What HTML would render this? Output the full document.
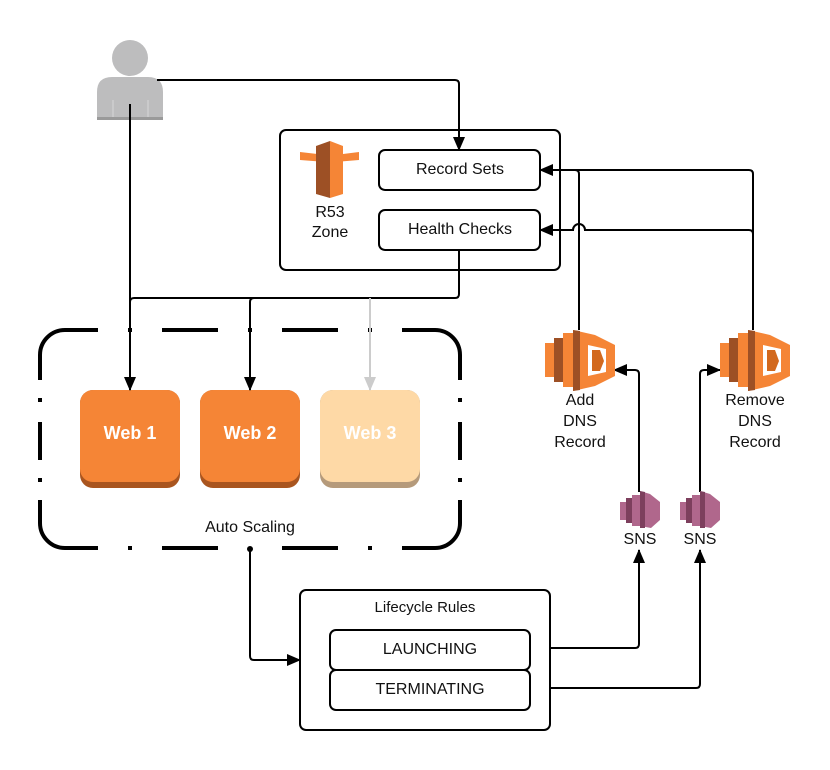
<!DOCTYPE html>
<html><head><meta charset="utf-8"><style>
html,body{margin:0;padding:0;background:#fff;}
svg{display:block;}
text{font-family:"Liberation Sans",sans-serif;fill:#111;}
</style></head><body>
<svg width="830" height="770" viewBox="0 0 830 770" xmlns="http://www.w3.org/2000/svg">
<defs>
<marker id="ah" markerWidth="14" markerHeight="12" refX="13" refY="6" orient="auto" markerUnits="userSpaceOnUse"><path d="M0,0 L14,6 L0,12 z" fill="#000"/></marker>
<marker id="ahg" markerWidth="14" markerHeight="12" refX="13" refY="6" orient="auto" markerUnits="userSpaceOnUse"><path d="M0,0 L14,6 L0,12 z" fill="#ccc"/></marker>
</defs>

<!-- person -->
<g fill="#bdbdbe">
<circle cx="130" cy="58" r="18"/>
<path d="M97,120 L97,92 Q97,77 112,77 L148,77 Q163,77 163,92 L163,120 z"/>
</g>
<g stroke="#d8d8d8" stroke-width="1"><line x1="113" y1="100" x2="113" y2="120"/><line x1="148" y1="100" x2="148" y2="120"/></g>
<rect x="97" y="117" width="66" height="3" fill="#9a9a9a"/>

<!-- R53 box -->
<rect x="280" y="130" width="280" height="140" rx="6" fill="#fff" stroke="#000" stroke-width="2"/>
<rect x="379" y="150" width="161" height="40" rx="6" fill="#fff" stroke="#000" stroke-width="2"/>
<text x="460" y="174" font-size="16" text-anchor="middle">Record Sets</text>
<rect x="379" y="210" width="161" height="40" rx="6" fill="#fff" stroke="#000" stroke-width="2"/>
<text x="460" y="234" font-size="16" text-anchor="middle">Health Checks</text>
<!-- R53 icon -->
<path d="M300,152 L326,155 L326,162 L300,160 z" fill="#f58536"/>
<path d="M335,155 L359,152 L359,160 L335,162 z" fill="#f58536"/>
<path d="M316,146 L330,141 L330,198 L316,194 z" fill="#9d5025"/>
<path d="M330,141 L343,146 L343,194 L330,198 z" fill="#f58536"/>
<text x="330" y="217" font-size="16" text-anchor="middle">R53</text>
<text x="330" y="237" font-size="16" text-anchor="middle">Zone</text>

<!-- auto scaling dashed border -->
<g fill="none" stroke="#000" stroke-width="4">
<path d="M40,380 L40,355 A25,25 0 0 1 65,330 L98,330"/>
<path d="M402,330 L435,330 A25,25 0 0 1 460,355 L460,380"/>
<path d="M40,500 L40,523 A25,25 0 0 0 65,548 L98,548"/>
<path d="M402,548 L435,548 A25,25 0 0 0 460,523 L460,500"/>
<path d="M162,330 L218,330 M282,330 L338,330 M162,548 L218,548 M282,548 L338,548 M40,422 L40,460 M460,422 L460,460"/>
</g>
<g fill="#000">
<rect x="128" y="328" width="4" height="4"/><rect x="248" y="328" width="4" height="4"/><rect x="368" y="328" width="4" height="4"/>
<rect x="128" y="546" width="4" height="4"/><rect x="368" y="546" width="4" height="4"/>
<rect x="38" y="398" width="4" height="4"/><rect x="38" y="478" width="4" height="4"/>
<rect x="458" y="398" width="4" height="4"/><rect x="458" y="478" width="4" height="4"/>
</g>
<text x="250" y="532" font-size="16" text-anchor="middle">Auto Scaling</text>

<!-- web boxes -->
<rect x="80" y="390" width="100" height="98" rx="13" fill="#a9551f"/>
<rect x="80" y="390" width="100" height="92" rx="13" fill="#f58536"/>
<text x="130" y="439" font-size="18" font-weight="bold" text-anchor="middle" style="fill:#fff">Web 1</text>
<rect x="200" y="390" width="100" height="98" rx="13" fill="#a9551f"/>
<rect x="200" y="390" width="100" height="92" rx="13" fill="#f58536"/>
<text x="250" y="439" font-size="18" font-weight="bold" text-anchor="middle" style="fill:#fff">Web 2</text>
<rect x="320" y="390" width="100" height="98" rx="13" fill="#b59a7b"/>
<rect x="320" y="390" width="100" height="92" rx="13" fill="#fed9a6"/>
<text x="370" y="439" font-size="18" font-weight="bold" text-anchor="middle" style="fill:#fff">Web 3</text>

<!-- connectors -->
<g fill="none" stroke="#000" stroke-width="2">
<path d="M157,80 L455,80 Q459,80 459,84 L459,150" marker-end="url(#ah)"/>
<path d="M130,104 L130,390" marker-end="url(#ah)"/>
<path d="M459,250 L459,294 Q459,298 455,298 L134,298 Q130,298 130,302"/>
<path d="M250,390 L250,302 Q250,298 254,298" />
<path d="M250,302 L250,390" marker-end="url(#ah)"/>
<path d="M579,330 L579,174 Q579,170 575,170 L540,170" marker-end="url(#ah)"/>
<path d="M753,330 L753,174 Q753,170 749,170 L575,170"/>
<path d="M753,330 L753,234 Q753,230 749,230 L585,230 A6,6 0 0 0 573,230 L540,230" marker-end="url(#ah)"/>
<path d="M639,492 L639,374 Q639,370 635,370 L614,370" marker-end="url(#ah)"/>
<path d="M700,492 L700,374 Q700,370 704,370 L720,370" marker-end="url(#ah)"/>
<path d="M250,551 L250,656 Q250,660 254,660 L300,660" marker-end="url(#ah)"/>
<path d="M530,648 L635,648 Q639,648 639,644 L639,550" marker-end="url(#ah)"/>
<path d="M530,688 L696,688 Q700,688 700,684 L700,550" marker-end="url(#ah)"/>
</g>
<path d="M370,298 L370,390" fill="none" stroke="#ccc" stroke-width="2" marker-end="url(#ahg)"/>
<circle cx="250" cy="549" r="3" fill="#000"/>

<!-- lambda icons -->
<g id="lam1">
<rect x="545" y="343" width="9" height="34" fill="#f58536"/>
<rect x="554" y="338" width="9" height="44" fill="#9d5025"/>
<rect x="563" y="333" width="10" height="54" fill="#f58536"/>
<path d="M573,330 L595,335 L615,345 L615,376 L595,386 L573,391 z" fill="#f58536"/>
<path d="M573,330 L580,331 L580,390 L573,391 z" fill="#9d5025"/>
<path d="M588,345 L606,349 L606,372 L588,376 z" fill="#fff"/>
<path d="M592,350 L600,350 L604,361 L600,371 L592,371 z" fill="#d2691e"/>
</g>
<use href="#lam1" transform="translate(175,0)"/>
<text x="580" y="405" font-size="16" text-anchor="middle">Add</text>
<text x="580" y="426" font-size="16" text-anchor="middle">DNS</text>
<text x="580" y="447" font-size="16" text-anchor="middle">Record</text>
<text x="755" y="405" font-size="16" text-anchor="middle">Remove</text>
<text x="755" y="426" font-size="16" text-anchor="middle">DNS</text>
<text x="755" y="447" font-size="16" text-anchor="middle">Record</text>

<!-- SNS icons -->
<g id="sns1">
<rect x="620" y="502" width="6" height="18" fill="#b0678c"/>
<rect x="626" y="498" width="6" height="25" fill="#7d3f5d"/>
<rect x="632" y="495" width="8" height="31" fill="#b0678c"/>
<path d="M640,491 L650,494 L660,502 L660,520 L651,528 L640,526 z" fill="#b0678c"/>
<path d="M640,491 L645,492 L645,528 L640,528 z" fill="#7d3f5d"/>
</g>
<use href="#sns1" transform="translate(60,0)"/>
<text x="640" y="544" font-size="16" text-anchor="middle">SNS</text>
<text x="700" y="544" font-size="16" text-anchor="middle">SNS</text>

<!-- lifecycle -->
<rect x="300" y="590" width="250" height="140" rx="6" fill="#fff" stroke="#000" stroke-width="2"/>
<text x="425" y="612" font-size="15" text-anchor="middle">Lifecycle Rules</text>
<rect x="330" y="630" width="200" height="40" rx="6" fill="#fff" stroke="#000" stroke-width="2"/>
<text x="430" y="654" font-size="16" text-anchor="middle">LAUNCHING</text>
<rect x="330" y="670" width="200" height="40" rx="6" fill="#fff" stroke="#000" stroke-width="2"/>
<text x="430" y="694" font-size="16" text-anchor="middle">TERMINATING</text>
</svg>
</body></html>
